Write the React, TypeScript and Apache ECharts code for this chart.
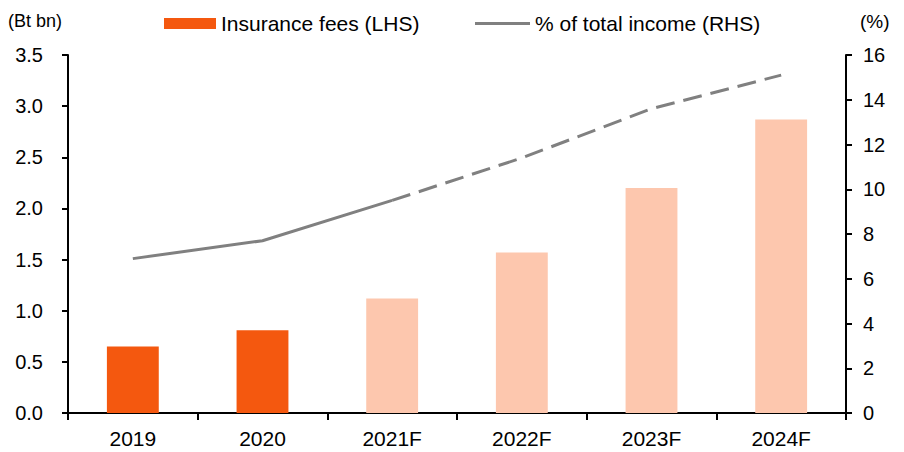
import React, { useEffect, useRef } from "react";
import * as echarts from "echarts";

const categories = ["2019", "2020", "2021F", "2022F", "2023F", "2024F"];
const insuranceFees = [0.65, 0.81, 1.12, 1.57, 2.2, 2.87];
const forecastFlags = [false, false, true, true, true, true];
const shareOfIncome = [6.9, 7.7, 9.5, 11.4, 13.6, 15.1];
const leftTicks = { min: 0, max: 3.5, interval: 0.5 };
const rightTicks = { min: 0, max: 16, interval: 2 };

const FEES_NAME = "Insurance fees (LHS)";
const SHARE_NAME = "% of total income (RHS)";
const ACTUAL_COLOR = "#F4580F";
const FORECAST_COLOR = "#FDC7AE";
const LINE_COLOR = "#808080";
const FONT = "'Liberation Sans', Arial, sans-serif";

export default function App() {
  const ref = useRef<HTMLDivElement>(null);
  useEffect(() => {
    if (!ref.current) return;
    const chart = echarts.init(ref.current, undefined, { renderer: "svg" });
    const lastActual = forecastFlags.indexOf(true);
    const solidData = shareOfIncome.map((v, i) => (i <= lastActual ? v : null));
    const dashedData = shareOfIncome.map((v, i) => (i >= lastActual ? v : null));
    chart.setOption({
      animation: false,
      textStyle: { fontFamily: FONT, color: "#000" },
      grid: { left: 68, right: 58, top: 55, bottom: 39, containLabel: false },
      legend: [
        {
          left: 159,
          top: 8,
          itemWidth: 52,
          itemHeight: 11,
          data: [{ name: FEES_NAME, icon: "rect" }],
          textStyle: { fontSize: 21, fontFamily: FONT, color: "#000" },
        },
        {
          left: 470,
          top: 8,
          itemWidth: 55,
          itemHeight: 3,
          data: [{ name: SHARE_NAME, icon: "rect", itemStyle: { color: LINE_COLOR } }],
          textStyle: { fontSize: 21, fontFamily: FONT, color: "#000" },
        },
      ],
      graphic: [
        {
          type: "text",
          left: 8,
          top: 12,
          style: { text: "(Bt bn)", font: `18px ${FONT}`, fill: "#000" },
        },
        {
          type: "text",
          left: 860,
          top: 12,
          style: { text: "(%)", font: `19px ${FONT}`, fill: "#000" },
        },
      ],
      xAxis: {
        type: "category",
        data: categories,
        boundaryGap: true,
        axisLine: { lineStyle: { color: "#000", width: 2 } },
        axisTick: { show: true, length: 7, lineStyle: { color: "#000", width: 2 }, alignWithLabel: false },
        axisLabel: { fontSize: 21, color: "#000", fontFamily: FONT, margin: 15 },
      },
      yAxis: [
        {
          type: "value",
          min: leftTicks.min,
          max: leftTicks.max,
          interval: leftTicks.interval,
          splitLine: { show: false },
          axisLine: { show: true, lineStyle: { color: "#000", width: 2 } },
          axisTick: { show: true, length: 6, lineStyle: { color: "#000", width: 2 } },
          axisLabel: {
            fontSize: 20,
            color: "#000",
            fontFamily: FONT,
            margin: 25,
            formatter: (v: number) => v.toFixed(1),
          },
        },
        {
          type: "value",
          min: rightTicks.min,
          max: rightTicks.max,
          interval: rightTicks.interval,
          position: "right",
          splitLine: { show: false },
          axisLine: { show: true, lineStyle: { color: "#000", width: 2 } },
          axisTick: { show: true, length: 6, lineStyle: { color: "#000", width: 2 } },
          axisLabel: { fontSize: 20, color: "#000", fontFamily: FONT, margin: 17 },
        },
      ],
      series: [
        {
          name: FEES_NAME,
          type: "bar",
          yAxisIndex: 0,
          barWidth: "40%",
          itemStyle: { color: ACTUAL_COLOR },
          data: insuranceFees.map((v, i) => ({
            value: v,
            itemStyle: { color: forecastFlags[i] ? FORECAST_COLOR : ACTUAL_COLOR },
          })),
        },
        {
          name: SHARE_NAME,
          type: "line",
          yAxisIndex: 1,
          symbol: "none",
          lineStyle: { color: LINE_COLOR, width: 3 },
          itemStyle: { color: LINE_COLOR },
          data: solidData,
        },
        {
          name: SHARE_NAME + " forecast",
          type: "line",
          yAxisIndex: 1,
          symbol: "none",
          lineStyle: { color: LINE_COLOR, width: 3, type: [19, 9] },
          itemStyle: { color: LINE_COLOR },
          data: dashedData,
        },
      ],
    });
    return () => chart.dispose();
  }, []);
  return <div ref={ref} style={{ width: 904, height: 452, position: "absolute", left: 0, top: 0 }} />;
}
